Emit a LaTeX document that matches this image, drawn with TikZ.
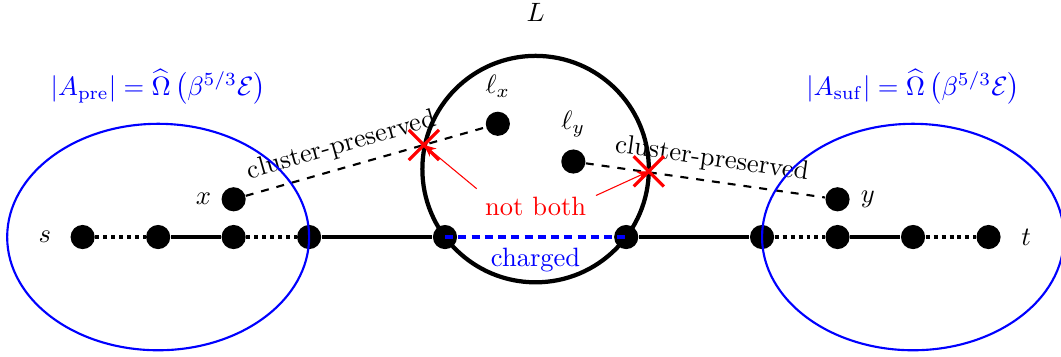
\documentclass[tikz,border=0pt]{standalone}
\usetikzlibrary{arrows.meta}
\begin{document}
\begin{tikzpicture}[
  dot/.style={circle,fill=black,inner sep=0pt,minimum size=3.2mm},
  mainln/.style={line width=1.2pt},
  dotln/.style={line width=1.6pt,dash pattern=on 1.5pt off 1.5pt},
  cpln/.style={thick,dashed},
  crossln/.style={red,line width=1.2pt},
  redarr/.style={red,-{Stealth[length=1.6mm,width=1.4mm]}},
  bluelab/.style={blue},
  ellln/.style={blue,thick}
]
\useasboundingbox (-1.095,-1.576) rectangle (12.96,3.14);

% big circle L
\draw[ultra thick] (6,0.9) circle (1.5);
\node (L) at (6,2.98) {$L$};

% main line nodes
\node[dot] (s) at (0,0) {};
\node[dot] (a1) at (1,0) {};
\node[dot] (a2) at (2,0) {};
\node[dot] (a3) at (3,0) {};
\node[dot] (c1) at (4.8,0) {};
\node[dot] (c2) at (7.2,0) {};
\node[dot] (b1) at (9,0) {};
\node[dot] (b2) at (10,0) {};
\node[dot] (b3) at (11,0) {};
\node[dot] (t) at (12,0) {};

\node[dot] (x) at (2,0.5) {};
\node[dot] (y) at (10,0.5) {};
\node[dot] (lx) at (5.5,1.5) {};
\node[dot] (ly) at (6.5,1.0) {};

% labels
\node (slab) at (-0.5,0) {$s$};
\node (tlab) at (12.5,0) {$t$};
\node (xlab) at (1.6,0.5) {$x$};
\node (ylab) at (10.4,0.5) {$y$};
\node (lxlab) at (5.5,2.0) {$\ell_x$};
\node (lylab) at (6.5,1.49) {$\ell_y$};

% main line connectors
\draw[dotln] (s) -- (a1);
\draw[mainln] (a1) -- (a2);
\draw[dotln] (a2) -- (a3);
\draw[mainln] (a3) -- (c1);
\draw[mainln] (c2) -- (b1);
\draw[dotln] (b1) -- (b2);
\draw[mainln] (b2) -- (b3);
\draw[dotln] (b3) -- (t);

% charged
\draw[blue,line width=1.6pt,dash pattern=on 3pt off 2pt] (c1.center) -- node[below,bluelab] (chg) {charged} (c2.center);

% cluster-preserved dashed lines
\draw[cpln] (x) -- node[sloped,above,pos=0.425] (cpl) {cluster-preserved} (lx);
\draw[cpln] (ly) -- node[sloped,above,pos=0.514] (cpr) {cluster-preserved} (y);

% crosses
\coordinate (crossL) at (4.52,1.22);
\coordinate (crossR) at (7.5,0.87);
\draw[crossln] ([shift={(-0.2,-0.2)}]crossL) -- ([shift={(0.2,0.2)}]crossL);
\draw[crossln] ([shift={(-0.2,0.2)}]crossL) -- ([shift={(0.2,-0.2)}]crossL);
\draw[crossln] ([shift={(-0.2,-0.2)}]crossR) -- ([shift={(0.2,0.2)}]crossR);
\draw[crossln] ([shift={(-0.2,0.2)}]crossR) -- ([shift={(0.2,-0.2)}]crossR);

% not both
\node[red] (nb) at (6,0.4) {not both};
\coordinate (nbL) at (5.22,0.64);
\coordinate (nbR) at (6.8,0.55);
\draw[redarr] (nbL) -- (crossL);
\draw[redarr] (nbR) -- (crossR);

% ellipses
\draw[ellln] (1,0) ellipse (2 and 1.5);
\draw[ellln] (11,0) ellipse (2 and 1.5);

\node[bluelab] (Apre) at (1,1.99) {$|A_{\mathrm{pre}}| = \widehat{\Omega}\left(\beta^{5/3}\mathcal{E}\right)$};
\node[bluelab] (Asuf) at (11,1.99) {$|A_{\mathrm{suf}}| = \widehat{\Omega}\left(\beta^{5/3}\mathcal{E}\right)$};
\end{tikzpicture}
\end{document}
